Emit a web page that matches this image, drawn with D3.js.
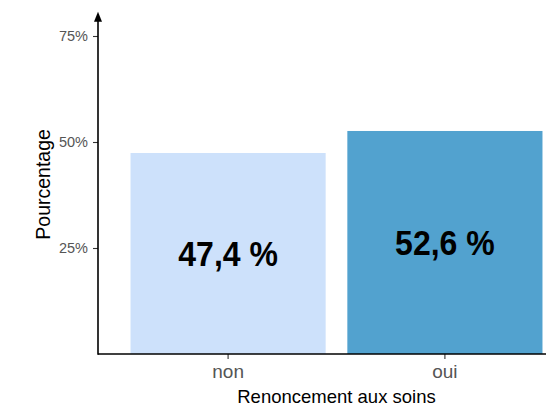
<!DOCTYPE html>
<html>
<head>
<meta charset="utf-8">
<script src="https://cdn.jsdelivr.net/npm/d3@7"></script>
<style>
  html, body { margin: 0; padding: 0; background: #fff; }
  svg { display: block; font-family: "Liberation Sans", Arial, sans-serif; }
</style>
</head>
<body>
<svg id="chart" width="546" height="406"></svg>
<script>
// Renoncement aux soins: share of respondents per answer
const categories = ["non", "oui"];
const shares = [0.474, 0.526];
const barLabels = ["47,4 %", "52,6 %"];
const barColors = ["#cde1fb", "#52a2cf"];
const yTicks = [0.25, 0.5, 0.75];
const yTickLabels = ["25%", "50%", "75%"];

const svg = d3.select("#chart");
const W = 546, H = 406;
const plotLeft = 98, plotBottom = 354, plotTop = 14.8, plotRight = 575;

const x = d3.scaleBand()
  .domain(categories)
  .range([plotLeft, plotRight])
  .paddingInner(0.1)
  .paddingOuter(0.15);

const y = d3.scaleLinear()
  .domain([0, 0.8])
  .range([plotBottom, plotTop]);

const data = categories.map((c, i) => ({ cat: c, v: shares[i], label: barLabels[i], color: barColors[i] }));

// bars
svg.append("g").selectAll("rect")
  .data(data)
  .join("rect")
  .attr("x", d => x(d.cat))
  .attr("y", d => y(d.v))
  .attr("width", x.bandwidth())
  .attr("height", d => y(0) - y(d.v))
  .attr("fill", d => d.color);

// value labels, centred at half height of each bar (slightly tall glyphs)
svg.append("g").selectAll("text")
  .data(data)
  .join("text")
  .attr("transform", d => `translate(${x(d.cat) + x.bandwidth() / 2},${y(d.v / 2)}) scale(1,1.1)`)
  .attr("dy", "0.36em")
  .attr("text-anchor", "middle")
  .attr("font-weight", "bold")
  .attr("font-size", 32)
  .attr("fill", "#000")
  .text(d => d.label);

// y axis
const yAxis = svg.append("g")
  .attr("transform", `translate(${plotLeft},0)`)
  .call(d3.axisLeft(y).tickValues(yTicks).tickFormat((d, i) => yTickLabels[i]).tickSize(5).tickPadding(5));
yAxis.select(".domain").remove();
yAxis.selectAll(".tick line").attr("stroke", "#333").attr("stroke-width", 1.1);
yAxis.selectAll(".tick text").attr("fill", "#555").attr("font-size", 14.5).attr("font-family", "Liberation Sans, Arial, sans-serif");

// x axis
const xAxis = svg.append("g")
  .attr("transform", `translate(0,${plotBottom})`)
  .call(d3.axisBottom(x).tickSize(5).tickPadding(6));
xAxis.select(".domain").remove();
xAxis.selectAll(".tick line").attr("stroke", "#333").attr("stroke-width", 1.1);
xAxis.selectAll(".tick text").attr("fill", "#555").attr("font-size", 19).attr("font-family", "Liberation Sans, Arial, sans-serif");

// axis lines with arrow on the vertical one
svg.append("line")
  .attr("x1", plotLeft).attr("x2", W + 5)
  .attr("y1", plotBottom).attr("y2", plotBottom)
  .attr("stroke", "#000").attr("stroke-width", 1.6);
svg.append("line")
  .attr("x1", plotLeft).attr("x2", plotLeft)
  .attr("y1", plotBottom + 0.8).attr("y2", 20)
  .attr("stroke", "#000").attr("stroke-width", 1.6);
svg.append("path")
  .attr("d", `M${plotLeft},${plotTop - 3} L${plotLeft - 4},${plotTop + 7} L${plotLeft + 4},${plotTop + 7} Z`)
  .attr("fill", "#000");

// axis titles
svg.append("text")
  .attr("x", (plotLeft + plotRight) / 2)
  .attr("y", 403)
  .attr("text-anchor", "middle")
  .attr("font-size", 18.5)
  .attr("fill", "#000")
  .text("Renoncement aux soins");

svg.append("text")
  .attr("transform", `translate(50,${(plotTop + plotBottom) / 2}) rotate(-90)`)
  .attr("text-anchor", "middle")
  .attr("font-size", 19.5)
  .attr("fill", "#000")
  .text("Pourcentage");
</script>
</body>
</html>
